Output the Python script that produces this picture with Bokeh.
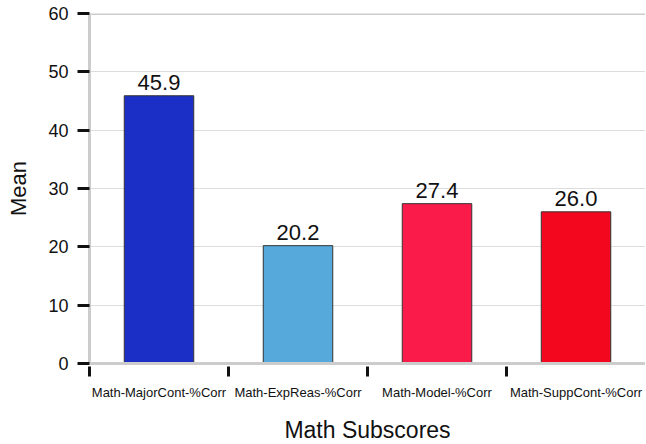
from bokeh.plotting import figure
from bokeh.models import ColumnDataSource, FixedTicker, Span, Range1d
from bokeh.core.properties import value
from bokeh.embed import file_html
from bokeh.resources import INLINE

categories = ["Math-MajorCont-%Corr", "Math-ExpReas-%Corr", "Math-Model-%Corr", "Math-SuppCont-%Corr"]
means = [45.9, 20.2, 27.4, 26.0]
colors = ["#1b2fc6", "#55aadb", "#fb1b4b", "#f3071f"]
y_ticks = [0, 10, 20, 30, 40, 50, 60]

FONT = "Liberation Sans"

xpos = [i + 0.5 for i in range(len(categories))]
src = ColumnDataSource(dict(x=xpos, top=means, color=colors,
                            label=["%.1f" % m for m in means]))

p = figure(width=645, height=446, output_backend="svg", toolbar_location=None,
           x_range=Range1d(0, len(categories)), y_range=Range1d(0, 60),
           min_border_left=89, min_border_right=0, min_border_top=13, min_border_bottom=83)
p.outline_line_color = None
p.background_fill_color = "white"
p.border_fill_color = "white"

p.vbar(x="x", top="top", width=0.5, bottom=0, source=src, fill_color="color",
       line_color="#333333", line_width=1)
p.text(x="x", y="top", text="label", source=src, text_align="center",
       text_baseline="alphabetic", y_offset=-13, text_font=value(FONT),
       text_font_size="22px", text_color="#111111")

p.add_layout(Span(location=60, dimension="width", line_color="#cccccc", line_width=3))

# y axis
ya = p.yaxis[0]
ya.ticker = FixedTicker(ticks=y_ticks)
ya.axis_line_color = "#cccccc"
ya.axis_line_width = 3
ya.major_tick_line_color = "#111111"
ya.major_tick_line_width = 3
ya.major_tick_out = 12
ya.major_tick_in = 0
ya.minor_tick_line_color = None
ya.major_label_text_font = FONT
ya.major_label_text_font_size = "18px"
ya.major_label_text_color = "#111111"
ya.major_label_standoff = 9
ya.axis_label = "Mean"
ya.axis_label_text_font = FONT
ya.axis_label_text_font_size = "22px"
ya.axis_label_text_font_style = "normal"
ya.axis_label_text_color = "#111111"
ya.axis_label_standoff = 14

# x axis
xa = p.xaxis[0]
xa.ticker = FixedTicker(ticks=xpos, minor_ticks=[0, 1, 2, 3])
xa.major_label_overrides = {xp: c for xp, c in zip(xpos, categories)}
xa.axis_line_color = "#cccccc"
xa.axis_line_width = 3
xa.major_tick_line_color = None
xa.major_tick_out = 0
xa.major_tick_in = 0
xa.minor_tick_line_color = "#111111"
xa.minor_tick_line_width = 3
xa.minor_tick_in = -3
xa.minor_tick_out = 13
xa.major_label_text_font = FONT
xa.major_label_text_font_size = "13px"
xa.major_label_text_color = "#111111"
xa.major_label_standoff = 8
xa.axis_label = "Math Subscores"
xa.axis_label_text_font = FONT
xa.axis_label_text_font_size = "23px"
xa.axis_label_text_font_style = "normal"
xa.axis_label_text_color = "#111111"
xa.axis_label_text_line_height = 1.0
xa.axis_label_standoff = 14

p.xgrid.grid_line_color = None
p.ygrid.ticker = FixedTicker(ticks=y_ticks)
p.ygrid.grid_line_color = "#dddddd"
p.ygrid.grid_line_width = 1

open("out.html", "w").write(file_html(p, INLINE))
